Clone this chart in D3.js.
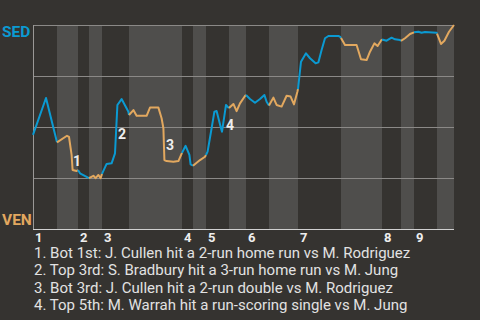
<!DOCTYPE html>
<html>
<head>
<meta charset="utf-8">
<script src="https://cdn.jsdelivr.net/npm/d3@7"></script>
<style>
  body { margin: 0; background: #353330; }
  text { font-family: Roboto, "Noto Sans", sans-serif; }
</style>
</head>
<body>
<script>
'use strict'

/* DATA */
var teams = ["SED", "VEN"];
var innings = ["1", "2", "3", "4", "5", "6", "7", "8", "9"];
// play number where each half-inning starts (last one = end of game)
var halfStarts = [0, 12, 22.5, 28, 34.5, 48, 74.5, 80, 86.5, 98, 106.5, 118, 132.5, 154, 174.5, 184, 190.5, 202, 210.5];
// play number / SED win probability (%)
var playNo = [0, 6.5, 12, 17, 18, 18.8, 19.3, 19.8, 21.8, 22.5, 23.5, 28, 30.2, 31.3, 32.7, 33.8, 34.5, 36.8, 39.3, 41, 42.2, 44.3, 47.7, 48, 50.2, 51.8, 56.8, 58.5, 62.7, 64.3, 65.2, 65.7, 66.8, 70.2, 72.7, 74.5, 76.3, 78.2, 78.8, 80, 83.5, 86, 86.5, 87.3, 89.3, 90.7, 91.8, 94, 94.5, 96, 96.5, 97.7, 98, 100.2, 101.8, 103.5, 106, 106.5, 108.5, 111, 113.5, 115.7, 116.8, 118, 120.2, 121.8, 124.3, 126.8, 128.8, 130.5, 132.2, 132.5, 134, 136.5, 138.5, 141.3, 142.7, 144.3, 146, 147.7, 152.7, 153.5, 154, 156, 161.8, 164, 166.8, 168.5, 170.7, 172.3, 174, 174.5, 176.8, 179.3, 181, 183.5, 184, 186, 188.5, 190.5, 192.7, 194.3, 196, 201.8, 202, 204, 205.7, 208, 210.5];
var sedWinPct = [46.1, 64.2, 42.5, 45.7, 45.2, 39.7, 36.3, 28.9, 28.4, 28.9, 27.3, 24.9, 26.1, 24.9, 26.5, 24.9, 27, 31.9, 32.2, 37.1, 60.8, 63.7, 57.5, 55.9, 58.3, 55.5, 55.5, 59.5, 59.5, 54.3, 49.4, 33.8, 33.3, 33, 33.3, 37.3, 40.8, 36.3, 31.7, 31, 33.8, 35.4, 36.3, 37.9, 49.4, 57.5, 57.8, 49.4, 47.7, 57.5, 60.8, 59.5, 59.3, 61.3, 57.8, 61.6, 65.2, 65.7, 63.7, 61.9, 63.7, 65.7, 62.4, 60.5, 64.4, 60.8, 60, 65.3, 64.9, 61.1, 67.3, 68.6, 82, 86.1, 83.7, 81.2, 81.7, 87.7, 93.5, 94.6, 94.6, 94.3, 93.6, 90.2, 90.2, 83.2, 82.8, 86.9, 91, 89.7, 92.3, 92.9, 92.3, 93.8, 93, 92.6, 92.2, 93.5, 95.6, 96.4, 96.7, 96.2, 96.6, 96.2, 95.8, 90.7, 92.3, 96.7, 100];
// key plays: marker label position (play number, win %) and description
var notePlay = [20, 42.5, 66.5, 96.5];
var notePct = [30.9, 44.1, 38.7, 48.5];
var noteText = [
  "Bot 1st: J. Cullen hit a 2-run home run vs M. Rodriguez",
  "Top 3rd: S. Bradbury hit a 3-run home run vs M. Jung",
  "Bot 3rd: J. Cullen hit a 2-run double vs M. Rodriguez",
  "Top 5th: M. Warrah hit a run-scoring single vs M. Jung"
];
var gridPct = [25, 50, 75];

// constants
var width = 480;
var height = 320;
var margin = {top: 25, right: 26, bottom: 91, left: 33};
var blue = "#0b9ad2";
var orange = "#e2a85f";

var svg = d3.select("body").append("svg")
  .attr("width", width)
  .attr("height", height)
  .style("display", "block")
  .style("background", "#353330");

var x = d3.scaleLinear().domain([0, d3.max(halfStarts)]).range([margin.left, width - margin.right]);
var y = d3.scaleLinear().domain([0, 100]).range([height - margin.bottom, margin.top]);

// half-inning bands, bottom halves are shaded lighter
var halves = d3.range(halfStarts.length - 1).map(i => ({i: i, a: halfStarts[i], b: halfStarts[i + 1]}));
svg.selectAll("rect.band")
  .data(halves.filter(d => d.i % 2 == 1))
  .enter().append("rect")
  .attr("class", "band")
  .attr("x", d => x(d.a))
  .attr("width", d => x(d.b) - x(d.a))
  .attr("y", y(100))
  .attr("height", y(0) - y(100))
  .attr("fill", "#4f4e4c");

// grid lines + frame
svg.selectAll("line.grid")
  .data(gridPct.concat([100]))
  .enter().append("line")
  .attr("class", "grid")
  .attr("x1", x.range()[0]).attr("x2", x.range()[1])
  .attr("y1", d => Math.round(y(d)) + 0.5).attr("y2", d => Math.round(y(d)) + 0.5)
  .attr("stroke", "#8b8987");
svg.append("line")
  .attr("x1", x.range()[0] + 0.5).attr("x2", x.range()[0] + 0.5)
  .attr("y1", y(100)).attr("y2", y(0))
  .attr("stroke", "#9a9896");
svg.append("line")
  .attr("x1", x.range()[0]).attr("x2", x.range()[1])
  .attr("y1", y(0) + 0.5).attr("y2", y(0) + 0.5)
  .attr("stroke", "#d0d0d0");

// inning tick labels at start of each top half
svg.selectAll("text.inning")
  .data(innings)
  .enter().append("text")
  .attr("class", "inning")
  .attr("x", (d, i) => x(halfStarts[i * 2]) + 2)
  .attr("y", y(0) + 13)
  .attr("fill", "#eeeeee")
  .style("font-size", "13px")
  .style("font-weight", "bold")
  .text(d => d);

// team labels
svg.append("text")
  .attr("x", 2).attr("y", y(100) + 11.5)
  .attr("fill", blue)
  .style("font-size", "15.5px").style("font-weight", "bold")
  .text(teams[0]);
svg.append("text")
  .attr("x", 2).attr("y", y(0) - 4)
  .attr("fill", orange)
  .style("font-size", "15.5px").style("font-weight", "bold")
  .text(teams[1]);

// win probability line, colored by which team is batting
var pts = playNo.map((p, i) => [p, sedWinPct[i]]);
var line = d3.line().x(d => x(d[0])).y(d => y(d[1]));
svg.selectAll("path.wp")
  .data(halves)
  .enter().append("path")
  .attr("class", "wp")
  .attr("d", h => line(pts.filter(d => d[0] >= h.a && d[0] <= h.b)))
  .attr("fill", "none")
  .attr("stroke", h => h.i % 2 == 0 ? blue : orange)
  .attr("stroke-width", 2)
  .attr("stroke-linejoin", "round");

// key play markers
svg.selectAll("text.note")
  .data(noteText)
  .enter().append("text")
  .attr("class", "note")
  .attr("x", (d, i) => x(notePlay[i]))
  .attr("y", (d, i) => y(notePct[i]))
  .attr("fill", "#eeeeee")
  .style("font-size", "14px")
  .style("font-weight", "bold")
  .text((d, i) => i + 1);

// footnotes
svg.selectAll("text.foot")
  .data(noteText)
  .enter().append("text")
  .attr("class", "foot")
  .attr("x", 34)
  .attr("y", (d, i) => 258 + i * 17.3)
  .attr("fill", "#e2e2e2")
  .style("font-size", "15px")
  .text((d, i) => (i + 1) + ". " + d);
</script>
</body>
</html>
